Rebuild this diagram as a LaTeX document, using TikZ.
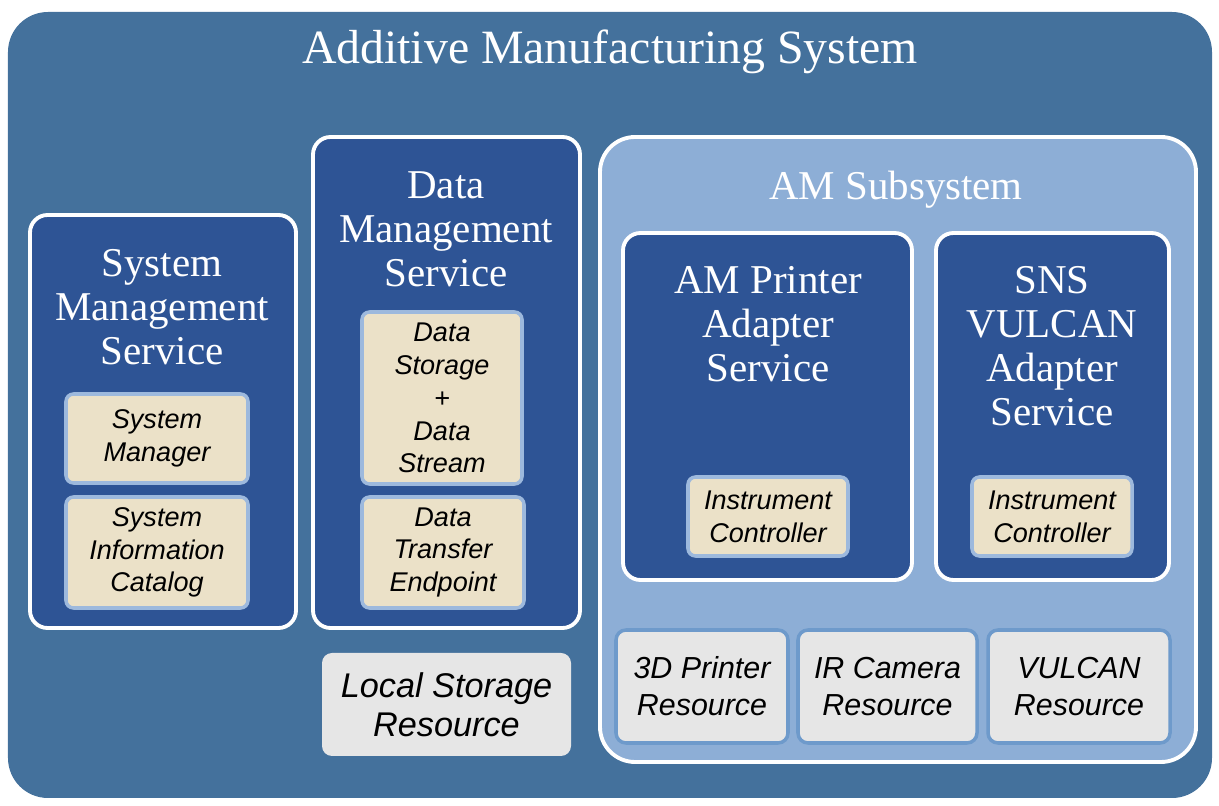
\documentclass[tikz,border=0pt]{standalone}
\usepackage{fontspec}
\setmainfont{Liberation Serif}
\setsansfont{Liberation Sans}
\definecolor{outerblue}{RGB}{68,113,156}
\definecolor{svcblue}{RGB}{46,84,149}
\definecolor{subblue}{RGB}{141,174,214}
\definecolor{cream}{RGB}{235,225,200}
\definecolor{partedge}{RGB}{157,185,221}
\definecolor{resgray}{RGB}{230,230,230}
\definecolor{resedge}{RGB}{110,154,203}
\begin{document}
\begin{tikzpicture}[
  box/.style={rectangle, inner sep=0pt, anchor=center},
  svc/.style={box, fill=svcblue, draw=white, line width=2.2pt, rounded corners=0.35cm},
  part/.style={box, fill=cream, draw=partedge, line width=2pt, rounded corners=0.15cm, align=center, font=\sffamily\itshape\fontsize{15.4}{18.7}\selectfont},
  res/.style={box, fill=resgray, draw=resedge, line width=2pt, rounded corners=0.2cm, align=center, font=\sffamily\itshape\fontsize{17.3}{21}\selectfont},
  heading/.style={text=white, align=center, font=\fontsize{23.3}{25}\selectfont}
]
\useasboundingbox (0,0) rectangle (24.38,-16.12);
% outer system
\node[box, fill=outerblue, rounded corners=0.8cm, minimum width=24.08cm, minimum height=15.72cm] (ams) at (12.2,-8.1) {};
\node[heading, font=\fontsize{27.2}{30}\selectfont] (ams-title) at (12.2,-1.04) {Additive Manufacturing System};

% system management
\node[svc, minimum width=5.32cm, minimum height=8.26cm] (sysmgmt) at (3.26,-8.43) {};
\node[heading] (sysmgmt-title) at (3.24,-6.14) {System\\Management\\Service};
\node[part, minimum width=3.64cm, minimum height=1.78cm] (sysmgr) at (3.14,-8.77) {System\\Manager};
\node[part, minimum width=3.64cm, minimum height=2.22cm] (syscat) at (3.14,-11.05) {System\\Information\\Catalog};

% data management
\node[svc, minimum width=5.34cm, minimum height=9.82cm] (datamgmt) at (8.93,-7.65) {};
\node[heading] (datamgmt-title) at (8.92,-4.58) {Data\\Management\\Service};
\node[part, minimum width=3.2cm, minimum height=3.44cm] (datastore) at (8.84,-7.96) {Data\\Storage\\+\\Data\\Stream};
\node[part, minimum width=3.24cm, minimum height=2.22cm] (dataxfer) at (8.86,-11.05) {Data\\Transfer\\Endpoint};
\node[res, draw=none, minimum width=4.98cm, minimum height=2.06cm, font=\sffamily\itshape\fontsize{19.5}{22.1}\selectfont] (localstore) at (8.93,-14.09) {Local Storage\\Resource};

% AM subsystem
\node[box, fill=subblue, draw=white, line width=2.2pt, rounded corners=0.7cm, minimum width=11.92cm, minimum height=12.5cm] (amsub) at (17.96,-8.99) {};
\node[heading] (amsub-title) at (17.92,-3.8) {AM Subsystem};

\node[svc, minimum width=5.78cm, minimum height=6.94cm] (printer) at (15.35,-8.13) {};
\node[heading] (printer-title) at (15.36,-6.48) {AM Printer\\Adapter\\Service};
\node[part, minimum width=3.2cm, minimum height=1.58cm] (printer-ctl) at (15.36,-10.33) {Instrument\\Controller};

\node[svc, minimum width=4.66cm, minimum height=6.94cm] (vulcan) at (21.05,-8.13) {};
\node[heading] (vulcan-title) at (21.04,-6.92) {SNS\\VULCAN\\Adapter\\Service};
\node[part, minimum width=3.2cm, minimum height=1.58cm] (vulcan-ctl) at (21.04,-10.33) {Instrument\\Controller};

\node[res, minimum width=3.44cm, minimum height=2.26cm] (printer-res) at (14.04,-13.73) {3D Printer\\Resource};
\node[res, minimum width=3.58cm, minimum height=2.26cm] (camera-res) at (17.75,-13.73) {IR Camera\\Resource};
\node[res, minimum width=3.64cm, minimum height=2.26cm] (vulcan-res) at (21.58,-13.73) {VULCAN\\Resource};
\end{tikzpicture}
\end{document}
